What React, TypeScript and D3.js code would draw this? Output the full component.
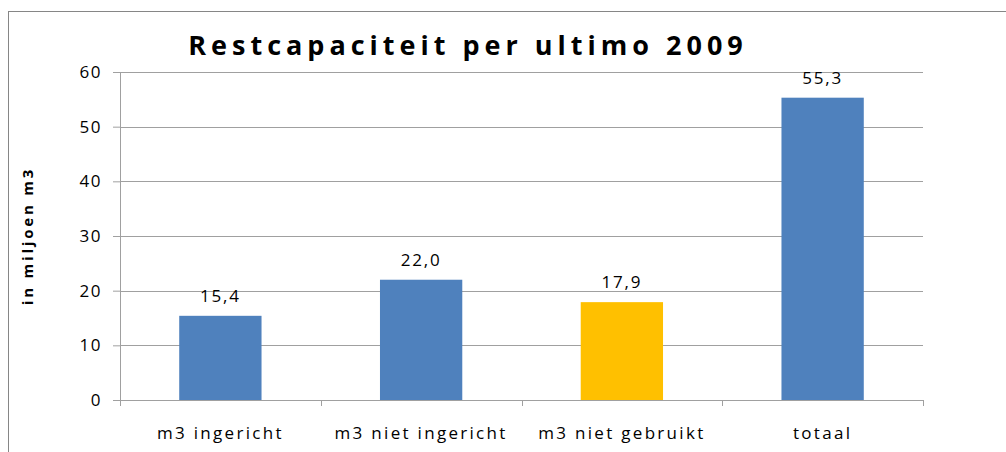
import React, { useEffect, useRef } from 'react';
import * as d3 from 'd3';

const categories = ['m3 ingericht', 'm3 niet ingericht', 'm3 niet gebruikt', 'totaal'];
const values = [15.4, 22.0, 17.9, 55.3];
const barColors = ['#4F81BD', '#4F81BD', '#FFC000', '#4F81BD'];
const yTicks = [0, 10, 20, 30, 40, 50, 60];

const W = 1006;
const H = 452;
const margin = { top: 72, right: 83, bottom: 52, left: 120 };

export default function App() {
  const ref = useRef<SVGSVGElement>(null);

  useEffect(() => {
    const svg = d3.select(ref.current);
    svg.selectAll('*').remove();

    const width = W - margin.left - margin.right;
    const height = H - margin.top - margin.bottom;
    const font = "'Open Sans', 'Noto Sans', sans-serif";

    // outer chart border (runs off the page right and bottom)
    svg.append('rect')
      .attr('x', 8.5).attr('y', 11.5)
      .attr('width', W + 20).attr('height', H + 20)
      .attr('fill', 'none').attr('stroke', '#868686').attr('stroke-width', 1);

    const g = svg.append('g').attr('transform', `translate(${margin.left},${margin.top})`);

    const x = d3.scaleBand().domain(categories).range([0, width]).paddingInner(0.59).paddingOuter(0.295);
    const xb = d3.scaleBand().domain(categories).range([0, width]);
    const y = d3.scaleLinear().domain([0, 60]).range([height, 0]);

    // gridlines
    g.selectAll('.grid').data(yTicks.slice(1)).enter().append('line')
      .attr('x1', 0).attr('x2', width)
      .attr('y1', d => Math.round(y(d)) + 0.5).attr('y2', d => Math.round(y(d)) + 0.5)
      .attr('stroke', '#A0A0A0').attr('stroke-width', 1);

    // y axis
    const yAxis = d3.axisLeft(y).tickValues(yTicks).tickSize(7).tickPadding(11);
    const ya = g.append('g').call(yAxis);
    ya.select('.domain').attr('stroke', '#A0A0A0');
    ya.selectAll('.tick line').attr('stroke', '#A0A0A0');
    ya.selectAll('.tick text').attr('font-family', font).attr('font-size', 17)
      .style('letter-spacing', '1.5px').attr('fill', '#000');

    // bars
    g.selectAll('.bar').data(values).enter().append('rect')
      .attr('x', (d, i) => x(categories[i])!)
      .attr('y', d => y(d))
      .attr('width', x.bandwidth())
      .attr('height', d => height - y(d))
      .attr('fill', (d, i) => barColors[i]);

    // x axis
    const xa = g.append('g').attr('transform', `translate(0,${height})`);
    xa.append('line').attr('x1', 0).attr('x2', width).attr('y1', 0.5).attr('y2', 0.5).attr('stroke', '#A0A0A0');
    const bounds = categories.map(c => xb(c)!).concat([width]);
    xa.selectAll('.xt').data(bounds).enter().append('line')
      .attr('x1', d => Math.round(d) + 0.5).attr('x2', d => Math.round(d) + 0.5)
      .attr('y1', 0).attr('y2', 6).attr('stroke', '#A0A0A0');
    xa.selectAll('.xl').data(categories).enter().append('text')
      .attr('x', d => xb(d)! + xb.bandwidth() / 2)
      .attr('y', 39)
      .attr('text-anchor', 'middle')
      .attr('font-family', font).attr('font-size', 17).style('letter-spacing', '2.3px')
      .text(d => d);

    // value labels
    g.selectAll('.vl').data(values).enter().append('text')
      .attr('x', (d, i) => x(categories[i])! + x.bandwidth() / 2)
      .attr('y', d => y(d) - 14)
      .attr('text-anchor', 'middle')
      .attr('font-family', font).attr('font-size', 17).style('letter-spacing', '1.8px')
      .text(d => d.toFixed(1).replace('.', ','));

    // title
    svg.append('text')
      .attr('x', 468).attr('y', 55)
      .attr('text-anchor', 'middle')
      .attr('font-family', font).attr('font-size', 27).attr('font-weight', 'bold')
      .style('letter-spacing', '5px')
      .text('Restcapaciteit per ultimo 2009');

    // y title
    svg.append('text')
      .attr('transform', `translate(33,${margin.top + height / 2}) rotate(-90)`)
      .attr('text-anchor', 'middle')
      .attr('font-family', font).attr('font-size', 15).attr('font-weight', 'bold')
      .style('letter-spacing', '2.8px')
      .text('in miljoen m3');
  }, []);

  return (
    <svg ref={ref} width={W} height={H} style={{ position: 'absolute', left: 0, top: 0 }} />
  );
}
